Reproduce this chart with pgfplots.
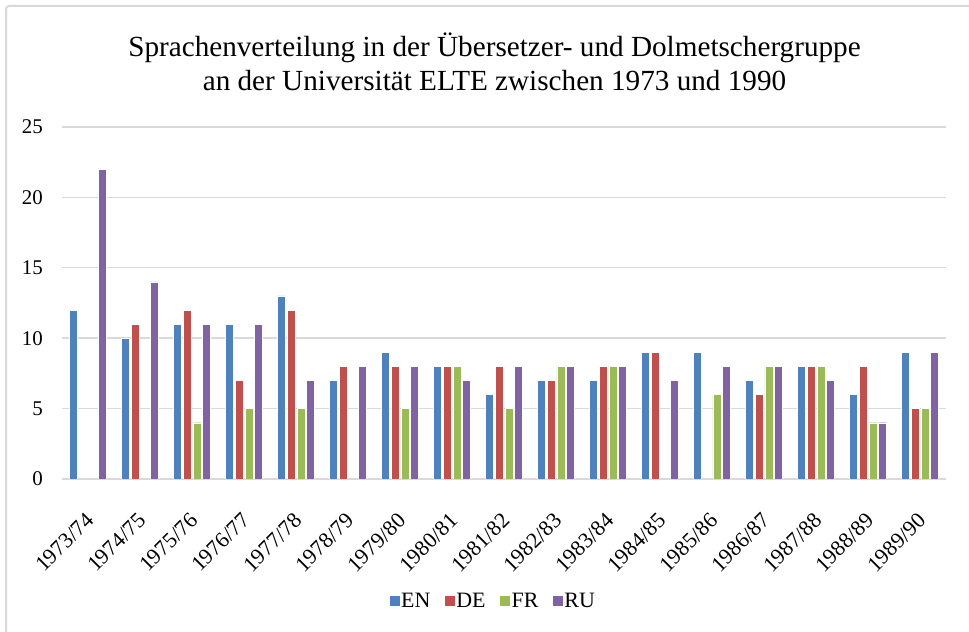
\documentclass[border=0pt]{standalone}
\usepackage{fontspec}
\setmainfont{Liberation Serif}
\newfontfamily\tnr{Liberation Serif}
\usepackage{pgfplots}
\pgfplotsset{compat=1.18}
\definecolor{cEN}{HTML}{4F81BD}
\definecolor{cDE}{HTML}{C0504D}
\definecolor{cFR}{HTML}{9BBB59}
\definecolor{cRU}{HTML}{8064A2}
\definecolor{gridc}{HTML}{D9D9D9}
\begin{document}
\tnr
\begin{tikzpicture}[x=1bp,y=1bp]
\useasboundingbox (0,0) rectangle (969,632);
\fill[white] (0,0) rectangle (969,632);
\draw[color=gridc, line width=2bp, rounded corners=3bp] (6,-20) rectangle (1000,626);
\node[anchor=base, font=\tnr\fontsize{29.3}{34}\selectfont] at (494.5,575) {Sprachenverteilung in der Übersetzer- und Dolmetschergruppe};
\node[anchor=base, font=\tnr\fontsize{29.3}{34}\selectfont] at (494.5,541) {an der Universität ELTE zwischen 1973 und 1990};
\begin{axis}[
  at={(62bp,153bp)}, anchor=south west, scale only axis,
  width=884bp, height=352bp,
  ymin=0, ymax=25, xmin=-0.5, xmax=16.5,
  ybar=1.7bp, bar width=8bp,
  axis line style={draw=none},
  major tick length=0pt,
  ymajorgrids, grid style={color=gridc, line width=1.4bp},
  ytick={0,5,10,15,20,25},
  xtick={0,...,16},
  xticklabels={1973/74,1974/75,1975/76,1976/77,1977/78,1978/79,1979/80,1980/81,1981/82,1982/83,1983/84,1984/85,1985/86,1986/87,1987/88,1988/89,1989/90},
  /pgf/number format/assume math mode=true,
  yticklabel style={font=\tnr\fontsize{21}{24}\selectfont, anchor=east, inner sep=0pt, xshift=-19bp},
  xticklabel style={font=\tnr\fontsize{22}{24}\selectfont, yshift=-38bp, xshift=2bp, rotate=45, anchor=east, inner sep=0pt},
  legend style={at={(0.4876,-0.3466)}, anchor=center, draw=none, fill=none, legend columns=4,
    font=\tnr\fontsize{22}{24}\selectfont, inner sep=0pt,
    /tikz/every even column/.append style={column sep=13bp},
    nodes={inner sep=1.5bp}},
  legend image code/.code={\path[#1,draw=none] (0bp,-5bp) rectangle (10bp,5bp);},
]
\addplot[fill=cEN, draw=white, line width=0.3bp] coordinates {(0,12)(1,10)(2,11)(3,11)(4,13)(5,7)(6,9)(7,8)(8,6)(9,7)(10,7)(11,9)(12,9)(13,7)(14,8)(15,6)(16,9)};
\addplot[fill=cDE, draw=white, line width=0.3bp] coordinates {(1,11)(2,12)(3,7)(4,12)(5,8)(6,8)(7,8)(8,8)(9,7)(10,8)(11,9)(13,6)(14,8)(15,8)(16,5)};
\addplot[fill=cFR, draw=white, line width=0.3bp] coordinates {(2,4)(3,5)(4,5)(6,5)(7,8)(8,5)(9,8)(10,8)(12,6)(13,8)(14,8)(15,4)(16,5)};
\addplot[fill=cRU, draw=white, line width=0.3bp] coordinates {(0,22)(1,14)(2,11)(3,11)(4,7)(5,8)(6,8)(7,7)(8,8)(9,8)(10,8)(11,7)(12,8)(13,8)(14,7)(15,4)(16,9)};
\legend{EN,DE,FR,RU}
\end{axis}
\end{tikzpicture}
\end{document}
